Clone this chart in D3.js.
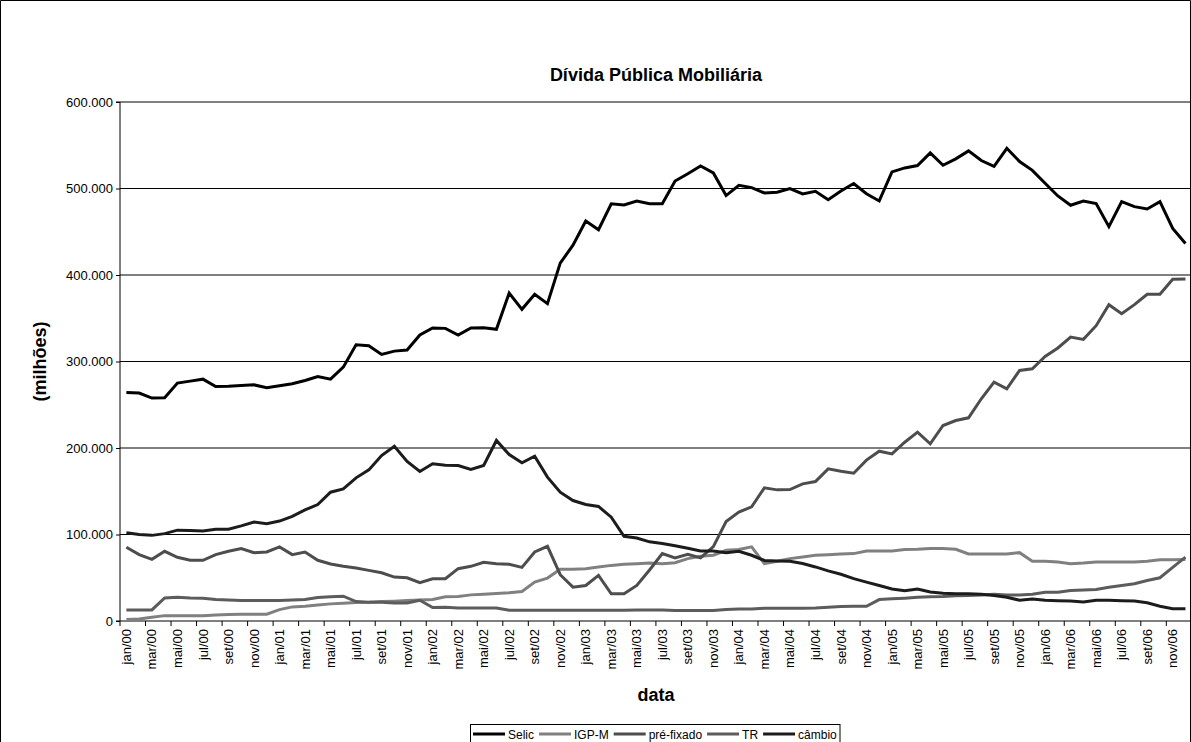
<!DOCTYPE html>
<html>
<head>
<meta charset="utf-8">
<script src="https://cdn.jsdelivr.net/npm/d3@7"></script>
<style>
  body { margin: 0; background: #fff; }
  svg { display: block; font-family: Arial, "Liberation Sans", sans-serif; }
</style>
</head>
<body>
<svg id="chart" width="1191" height="742"></svg>
<script>
// Monthly categories, jan/00 .. dez/06
const categories = [
  "jan/00","fev/00","mar/00","abr/00","mai/00","jun/00","jul/00","ago/00","set/00","out/00","nov/00","dez/00",
  "jan/01","fev/01","mar/01","abr/01","mai/01","jun/01","jul/01","ago/01","set/01","out/01","nov/01","dez/01",
  "jan/02","fev/02","mar/02","abr/02","mai/02","jun/02","jul/02","ago/02","set/02","out/02","nov/02","dez/02",
  "jan/03","fev/03","mar/03","abr/03","mai/03","jun/03","jul/03","ago/03","set/03","out/03","nov/03","dez/03",
  "jan/04","fev/04","mar/04","abr/04","mai/04","jun/04","jul/04","ago/04","set/04","out/04","nov/04","dez/04",
  "jan/05","fev/05","mar/05","abr/05","mai/05","jun/05","jul/05","ago/05","set/05","out/05","nov/05","dez/05",
  "jan/06","fev/06","mar/06","abr/06","mai/06","jun/06","jul/06","ago/06","set/06","out/06","nov/06","dez/06"
];

// Axis ticks (values in R$ thousand millions shown as "100.000" etc.)
const yTickValues = [0, 100, 200, 300, 400, 500, 600];
const yTickLabels = ["0", "100.000", "200.000", "300.000", "400.000", "500.000", "600.000"];

// Stock of federal securities by indexer (R$ milhões / 1000)
const selic = [
  264.2, 263.5, 257.7, 258.1, 275.0, 277.3, 279.6, 271.1, 271.5, 272.3, 273.0, 269.6,
  271.9, 274.2, 278.1, 282.7, 279.6, 293.5, 319.4, 318.2, 308.2, 312.0, 313.2, 330.6,
  338.7, 338.3, 330.6, 338.7, 339.0, 337.2, 379.2, 360.3, 377.7, 366.9, 413.8, 434.4,
  462.4, 452.4, 482.4, 480.9, 485.5, 482.4, 482.4, 508.7, 517.1, 526.0, 518.0, 491.8,
  503.7, 501.0, 494.8, 495.6, 499.8, 493.7, 496.8, 487.1, 497.2, 505.7, 494.0, 485.6,
  519.2, 523.8, 526.5, 541.2, 526.9, 534.3, 543.5, 532.3, 525.7, 546.5, 531.1, 521.0,
  506.1, 491.4, 480.6, 485.6, 482.5, 455.9, 484.8, 479.0, 476.3, 484.8, 453.9, 436.5
];
const igpm = [
  1.6, 2.3, 4.3, 6.2, 6.2, 6.2, 6.2, 7.0, 7.4, 7.8, 7.8, 7.8,
  13.2, 16.3, 17.1, 18.6, 19.8, 20.5, 21.3, 21.7, 22.5, 22.9, 23.6, 24.4,
  24.8, 27.9, 28.3, 30.2, 31.0, 31.8, 32.6, 34.1, 45.0, 49.6, 59.7, 59.7,
  60.5, 62.4, 64.3, 65.5, 66.3, 67.0, 66.3, 67.4, 72.1, 74.8, 76.0, 81.8,
  82.6, 85.7, 66.3, 69.0, 72.1, 74.0, 76.0, 76.7, 77.5, 77.9, 81.0, 81.0,
  81.0, 82.6, 82.9, 83.7, 83.7, 82.9, 77.5, 77.5, 77.5, 77.5, 79.0, 69.0,
  69.0, 68.2, 66.3, 67.0, 68.2, 68.2, 68.2, 68.2, 69.0, 70.9, 70.9, 71.0
];
const prefixado = [
  85.3, 76.7, 71.3, 80.6, 73.6, 70.2, 70.2, 76.7, 80.6, 83.7, 79.0, 79.8,
  85.7, 76.7, 79.8, 70.2, 65.9, 63.2, 61.2, 58.5, 55.8, 50.8, 50.0, 44.2,
  48.8, 48.8, 60.5, 63.2, 67.8, 66.3, 65.5, 62.0, 79.8, 86.4, 53.5, 39.1,
  41.1, 52.7, 31.4, 31.4, 41.1, 59.0, 78.0, 73.0, 77.0, 73.0, 86.0, 115.0,
  126.0, 132.0, 154.0, 151.6, 151.9, 158.5, 161.2, 175.9, 173.1, 170.8, 186.0, 196.3,
  193.2, 206.7, 218.3, 204.8, 226.0, 231.8, 234.9, 256.9, 276.2, 268.5, 289.7, 291.6,
  305.9, 315.6, 328.3, 325.6, 341.4, 365.7, 355.3, 365.7, 377.7, 377.7, 395.0, 395.5
];
const tr = [
  12.8, 12.8, 12.8, 26.7, 27.5, 26.7, 26.4, 24.8, 24.4, 23.6, 23.6, 23.6,
  23.6, 24.4, 24.8, 27.1, 27.9, 28.7, 22.5, 21.7, 21.7, 20.9, 20.9, 24.0,
  15.5, 15.9, 15.1, 15.1, 15.1, 15.1, 12.4, 12.4, 12.4, 12.4, 12.4, 12.4,
  12.4, 12.4, 12.4, 12.4, 12.8, 12.8, 12.8, 12.0, 12.0, 12.0, 12.0, 13.2,
  14.0, 14.0, 14.7, 14.7, 14.7, 14.7, 15.1, 15.9, 16.7, 17.1, 17.1, 24.8,
  25.6, 26.4, 27.5, 27.9, 28.3, 29.1, 29.5, 30.2, 31.0, 30.2, 30.2, 31.0,
  33.3, 33.3, 35.3, 35.7, 36.4, 39.1, 41.1, 43.0, 46.9, 50.0, 62.0, 73.8
];
const cambio = [
  102.0, 100.0, 99.0, 101.0, 105.0, 104.5, 104.0, 106.0, 106.0, 110.0, 114.5, 112.5,
  115.5, 121.0, 128.4, 134.6, 148.9, 152.7, 165.5, 174.7, 191.3, 202.1, 184.4, 172.8,
  181.7, 180.1, 179.7, 175.1, 179.8, 208.7, 192.5, 182.9, 190.6, 166.3, 148.9, 139.3,
  134.7, 132.4, 120.0, 98.0, 96.0, 91.5, 89.5, 87.0, 84.0, 81.0, 81.0, 79.0,
  80.5, 76.0, 70.0, 69.5, 69.0, 66.5, 62.5, 58.0, 54.0, 49.0, 45.0, 41.0,
  37.0, 35.0, 37.0, 33.5, 32.0, 31.5, 31.5, 31.0, 29.5, 27.5, 24.0, 25.5,
  24.0, 23.5, 23.0, 22.0, 24.0, 24.0, 23.5, 23.0, 21.0, 17.0, 14.3, 14.3
];

const seriesNames = ["Selic", "IGP-M", "pré-fixado", "TR", "câmbio"];
const seriesColors = ["#000000", "#808080", "#4d4d4d", "#5c5c5c", "#1c1c1c"];

const series = [selic, igpm, prefixado, tr, cambio].map((values, k) => ({
  name: seriesNames[k], color: seriesColors[k], values
}));

const svg = d3.select("#chart");
const plotLeft = 120, catW = 12.76;
const plotRight = plotLeft + categories.length * catW;
const plotTop = 102, plotBottom = 621;

svg.append("rect").attr("width", 1191).attr("height", 742).attr("fill", "#fff");

const x = d3.scaleBand().domain(categories).range([plotLeft, plotRight]).paddingInner(0).paddingOuter(0);
const y = d3.scaleLinear().domain([0, 600]).range([plotBottom, plotTop]);
const cx = c => x(c) + x.bandwidth() / 2;

// Chart frame
svg.append("path")
  .attr("d", `M0.5,742 V0.5 H1190.5 V742`)
  .attr("fill", "none").attr("stroke", "#000").attr("stroke-width", 1);

// Horizontal gridlines
svg.append("g").selectAll("line")
  .data(yTickValues.filter(v => v > 0))
  .join("line")
  .attr("x1", plotLeft).attr("x2", 1190)
  .attr("y1", d => y(d)).attr("y2", d => y(d))
  .attr("stroke", "#000").attr("stroke-width", 1);

// Y axis
const yAxis = d3.axisLeft(y).tickValues(yTickValues)
  .tickFormat((d, i) => yTickLabels[i]).tickSize(4).tickPadding(3);
const gy = svg.append("g").attr("transform", `translate(${plotLeft},0)`).call(yAxis);
gy.select(".domain").attr("stroke", "#000").attr("d", `M-4,${plotTop}H0V${plotBottom}H-4`);
gy.selectAll(".tick line").attr("stroke", "#000");
gy.selectAll(".tick text").attr("font-size", 13).attr("fill", "#000")
  .attr("font-family", "Arial, 'Liberation Sans', sans-serif");

// X axis: tick marks every two months, labels on odd months
const tickCats = categories.filter((c, i) => i % 2 === 0);
const gx = svg.append("g");
gx.append("line").attr("x1", plotLeft).attr("x2", 1190).attr("y1", plotBottom).attr("y2", plotBottom)
  .attr("stroke", "#000").attr("stroke-width", 1);
gx.selectAll("line.tk").data(tickCats).join("line").attr("class", "tk")
  .attr("x1", d => x(d)).attr("x2", d => x(d))
  .attr("y1", plotBottom).attr("y2", plotBottom + 5)
  .attr("stroke", "#000");
gx.selectAll("text").data(tickCats).join("text")
  .attr("transform", d => `translate(${cx(d)},${plotBottom + 8}) rotate(-90)`)
  .attr("text-anchor", "end").attr("dy", "0.35em")
  .attr("font-size", 13).attr("fill", "#000")
  .text(d => d);

// Series lines
const line = d3.line().x((d, i) => cx(categories[i])).y(d => y(d));
svg.append("g").selectAll("path")
  .data(series).join("path")
  .attr("d", s => line(s.values))
  .attr("fill", "none")
  .attr("stroke", s => s.color)
  .attr("stroke-width", 3)
  .attr("stroke-linejoin", "miter").attr("stroke-miterlimit", 3);

// Titles
const midX = (plotLeft + plotRight) / 2;
svg.append("text").attr("x", midX).attr("y", 81).attr("text-anchor", "middle")
  .attr("font-size", 18).attr("font-weight", "bold").text("Dívida Pública Mobiliária");
svg.append("text").attr("x", midX).attr("y", 701).attr("text-anchor", "middle")
  .attr("font-size", 18).attr("font-weight", "bold").text("data");
svg.append("text").attr("transform", `translate(40,${(plotTop + plotBottom) / 2}) rotate(-90)`)
  .attr("text-anchor", "middle").attr("dy", "0.35em")
  .attr("font-size", 18).attr("font-weight", "bold").text("(milhões)");

// Legend
const lg = svg.append("g");
lg.append("rect").attr("x", 470.5).attr("y", 724.5).attr("width", 369.5).attr("height", 40)
  .attr("fill", "#fff").attr("stroke", "#000");
let lx = 473;
series.forEach(s => {
  lg.append("line").attr("x1", lx).attr("x2", lx + 32).attr("y1", 734).attr("y2", 734)
    .attr("stroke", s.color).attr("stroke-width", 3);
  const t = lg.append("text").attr("x", lx + 35).attr("y", 738.5)
    .attr("font-size", 12).attr("fill", "#000").text(s.name);
  lx += 35 + t.node().getComputedTextLength() + 5;
});
</script>
</body>
</html>
